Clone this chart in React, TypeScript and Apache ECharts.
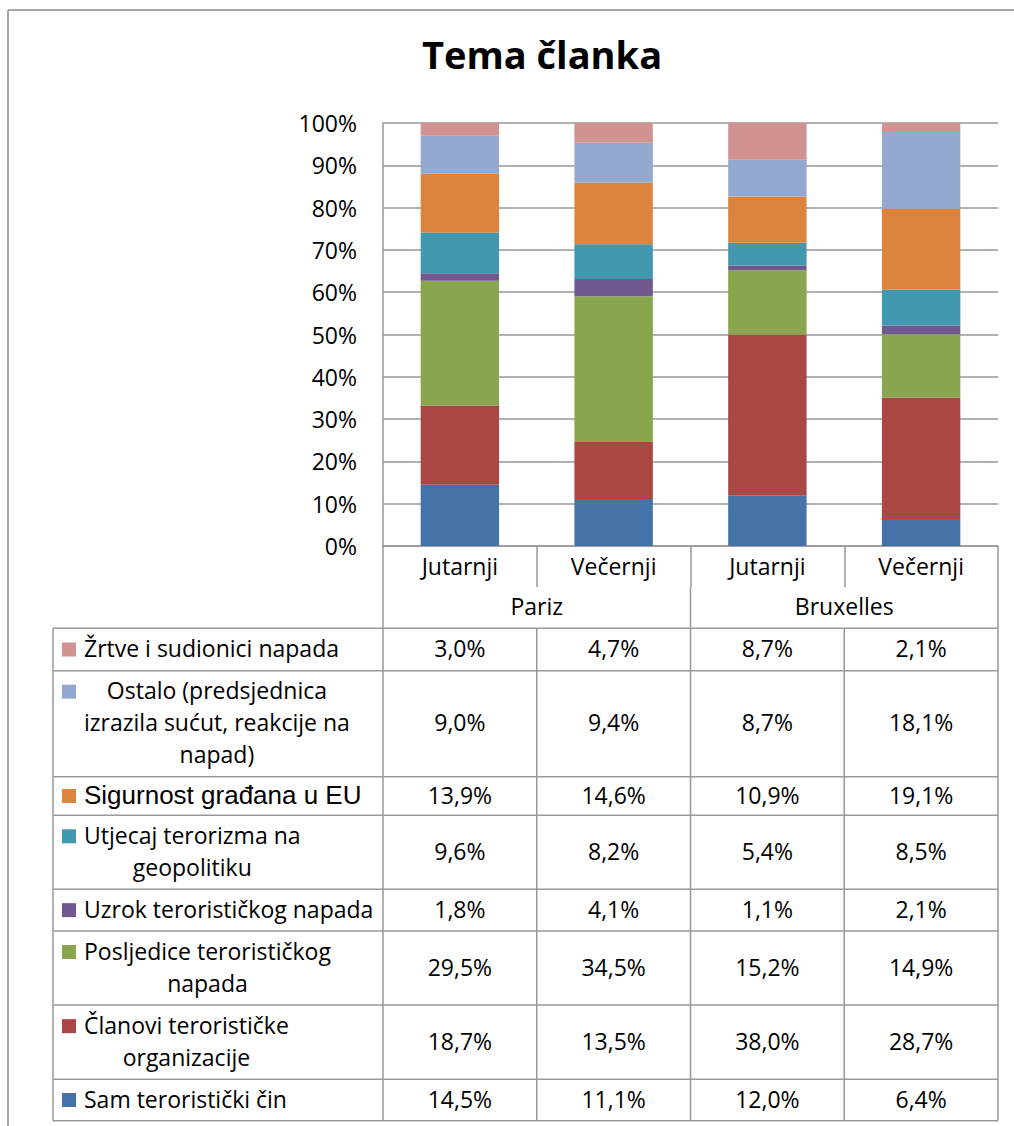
import React, { useEffect, useRef } from 'react';
import * as echarts from 'echarts';

// ---------- data ----------
const categories = ['Jutarnji', 'Večernji', 'Jutarnji', 'Večernji'];
const groups = ['Pariz', 'Bruxelles'];
const seriesNames = [
  'Sam teroristički čin',
  'Članovi terorističke organizacije',
  'Posljedice terorističkog napada',
  'Uzrok terorističkog napada',
  'Utjecaj terorizma na geopolitiku',
  'Sigurnost građana u EU',
  'Ostalo (predsjednica izrazila sućut, reakcije na napad)',
  'Žrtve i sudionici napada',
];
const tableLabels = [
  'Sam teroristički čin',
  'Članovi terorističke\norganizacije',
  'Posljedice terorističkog\nnapada',
  'Uzrok terorističkog napada',
  'Utjecaj terorizma na\ngeopolitiku',
  'Sigurnost građana u EU',
  'Ostalo (predsjednica\nizrazila sućut, reakcije na\nnapad)',
  'Žrtve i sudionici napada',
];
const samCin = [14.5, 11.1, 12.0, 6.4];
const clanovi = [18.7, 13.5, 38.0, 28.7];
const posljedice = [29.5, 34.5, 15.2, 14.9];
const uzrok = [1.8, 4.1, 1.1, 2.1];
const utjecaj = [9.6, 8.2, 5.4, 8.5];
const sigurnost = [13.9, 14.6, 10.9, 19.1];
const ostalo = [9.0, 9.4, 8.7, 18.1];
const zrtve = [3.0, 4.7, 8.7, 2.1];
const seriesValues = [samCin, clanovi, posljedice, uzrok, utjecaj, sigurnost, ostalo, zrtve];

// ---------- styles / layout ----------
const colors = ['#4572A7', '#AA4643', '#89A54E', '#71588F', '#4198AF', '#DB843D', '#93A9CF', '#D19392'];
const FONT = '"Open Sans", sans-serif';
const FS = 23;
const LINE = '#999999';
const W = 1014;
const H = 1126;
const plotLeft = 383;
const plotRight = 998;
const plotTop = 123;
const plotBottom = 546;
const catRowBottom = 587;
const tableLeft = 53;
const TY = -1.5; // small vertical text offset
// row boundaries, top to bottom (first is the top of the data table)
const rowBounds = [628.3, 670.7, 776.7, 815.3, 889.3, 931, 1005, 1079.3, 1120.7];

const fmt = (v: number) => v.toFixed(1).replace('.', ',') + '%';

export default function App() {
  const ref = useRef<HTMLDivElement>(null);
  useEffect(() => {
    if (!ref.current) return;
    const chart = echarts.init(ref.current, null, { renderer: 'svg' });
    const colW = (plotRight - plotLeft) / categories.length;
    const sums = categories.map((_, i) => seriesValues.reduce((s, arr) => s + arr[i], 0));

    const canvas = document.createElement('canvas');
    const ctx = canvas.getContext('2d') as CanvasRenderingContext2D;
    const measure = (t: string, font: string) => {
      ctx.font = font;
      return ctx.measureText(t).width;
    };

    const g: any[] = [];
    const line = (x1: number, y1: number, x2: number, y2: number, stroke = LINE, lw = 1.5) =>
      g.push({ type: 'line', silent: true, z: 10, shape: { x1, y1, x2, y2 }, style: { stroke, lineWidth: lw } });

    // outer frame
    line(8, 10, 8, H, '#8a8a8a', 1.5);
    line(8, 10, W, 10, '#8a8a8a', 1.5);

    // group row
    line(plotLeft, catRowBottom, plotLeft, rowBounds[0]);
    line(plotLeft + colW * 2, catRowBottom, plotLeft + colW * 2, rowBounds[0]);
    line(plotRight, catRowBottom, plotRight, rowBounds[0]);
    groups.forEach((name, gi) => {
      g.push({
        type: 'text', silent: true, z: 11,
        style: {
          text: name, x: plotLeft + colW * (gi * 2 + 1), y: (catRowBottom + rowBounds[0]) / 2 + TY,
          align: 'center', verticalAlign: 'middle', font: `${FS}px ${FONT}`, fill: '#000',
        },
      });
    });

    // data table grid
    rowBounds.forEach((y) => line(tableLeft, y, plotRight, y));
    const vx = [tableLeft, plotLeft, ...categories.map((_, i) => plotLeft + colW * (i + 1))];
    vx.forEach((x) => line(x, rowBounds[0], x, rowBounds[rowBounds.length - 1]));

    // rows (top row = last series)
    const nS = seriesValues.length;
    for (let r = 0; r < nS; r++) {
      const si = nS - 1 - r;
      const yTop = rowBounds[r];
      const yBot = rowBounds[r + 1];
      const yc = (yTop + yBot) / 2;
      const label = tableLabels[si];
      const lines = label.split('\n');
      const isArial = si === 5;
      const font = isArial ? `26px "Liberation Sans", Arial, sans-serif` : `${FS}px ${FONT}`;
      const lh = 32;
      const maxW = Math.max(...lines.map((l) => measure(l, font)));
      const firstY = yc - ((lines.length - 1) * lh) / 2;
      g.push({
        type: 'rect', silent: true, z: 11,
        shape: { x: 62, y: firstY - 7, width: 14, height: 14 },
        style: { fill: colors[si] },
      });
      g.push({
        type: 'text', silent: true, z: 11,
        style: {
          text: label, x: 84 + maxW / 2, y: yc + TY, align: 'center', verticalAlign: 'middle',
          font, lineHeight: lh, fill: '#000',
        },
      });
      seriesValues[si].forEach((v, ci) => {
        g.push({
          type: 'text', silent: true, z: 11,
          style: {
            text: fmt(v), x: plotLeft + colW * (ci + 0.5), y: yc + TY, align: 'center', verticalAlign: 'middle',
            font: `${FS}px ${FONT}`, fill: '#000',
          },
        });
      });
    }

    chart.setOption({
      animation: false,
      backgroundColor: '#fff',
      title: {
        text: 'Tema članka', left: 537, top: 30, textAlign: 'center',
        textStyle: { fontFamily: FONT, fontWeight: 'bold', fontSize: 38, color: '#000' },
      },
      grid: { left: plotLeft, right: W - plotRight, top: plotTop, bottom: H - plotBottom, containLabel: false },
      xAxis: {
        type: 'category', data: categories,
        axisLine: { show: true, lineStyle: { color: LINE, width: 1.5 } },
        axisTick: { show: true, interval: 0, length: catRowBottom - plotBottom, lineStyle: { color: LINE, width: 1.5 } },
        axisLabel: { interval: 0, margin: 20, verticalAlign: 'middle', fontFamily: FONT, fontSize: FS, color: '#000' },
      },
      yAxis: {
        type: 'value', min: 0, max: 100, interval: 10,
        axisLine: { show: true, lineStyle: { color: LINE, width: 1.5 } },
        axisTick: { show: false },
        splitLine: { show: true, lineStyle: { color: LINE, width: 1.5 } },
        axisLabel: { formatter: '{value}%', margin: 26, fontFamily: FONT, fontSize: FS, color: '#000', padding: [0, 0, 3, 0] },
      },
      series: seriesValues.map((vals, si) => ({
        name: seriesNames[si], type: 'bar', stack: 'total', barWidth: '51%',
        itemStyle: { color: colors[si] },
        data: vals.map((v, i) => (v / sums[i]) * 100),
      })),
      graphic: g,
    });
    return () => chart.dispose();
  }, []);
  return <div ref={ref} style={{ position: 'fixed', left: 0, top: 0, width: W, height: H }} />;
}
